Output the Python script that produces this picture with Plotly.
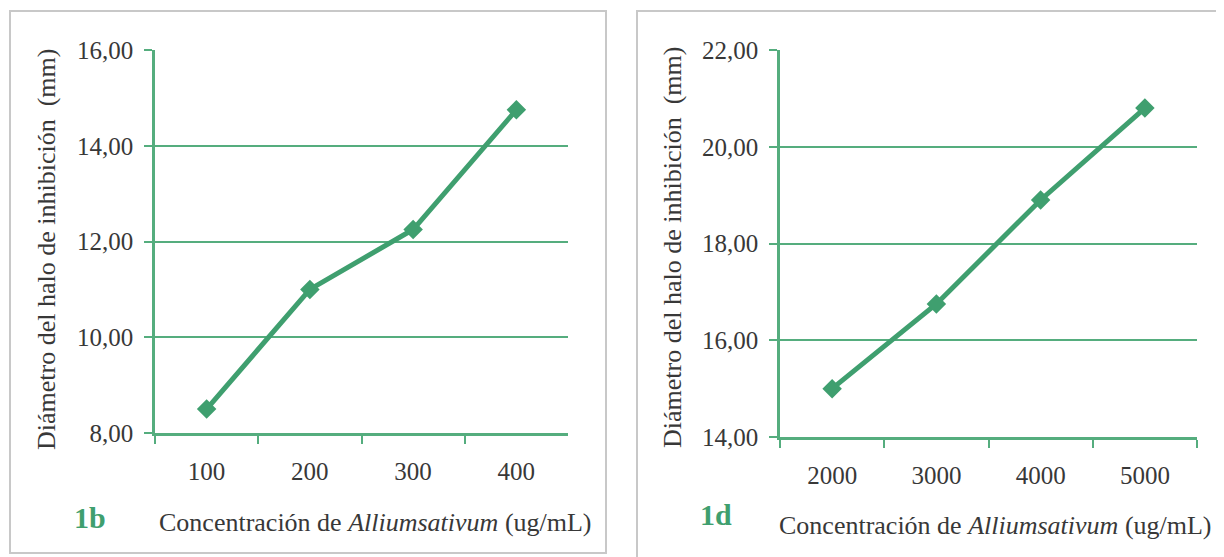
import plotly.graph_objects as go

# Data
conc_1b = ["100", "200", "300", "400"]
halo_1b = [8.5, 11.0, 12.25, 14.75]
conc_1d = ["2000", "3000", "4000", "5000"]
halo_1d = [15.0, 16.75, 18.9, 20.8]
yticks_1b = [8, 10, 12, 14, 16]
yticks_1d = [14, 16, 18, 20, 22]
ylabels_1b = ["8,00", "10,00", "12,00", "14,00", "16,00"]
ylabels_1d = ["14,00", "16,00", "18,00", "20,00", "22,00"]

W, H = 1224, 557
OFF = 8  # page body margin
LINE = "#3F9F6F"
GRID = "#55AD7E"
TXT = "#383838"
FONT = "Times New Roman, Liberation Serif, serif"

def px(x):
    return (x - OFF) / W

def py(y):
    return (H - (y - OFF)) / H

fig = go.Figure()
fig.add_trace(go.Scatter(x=conc_1b, y=halo_1b, mode="lines+markers",
                         line=dict(color=LINE, width=5),
                         marker=dict(symbol="diamond", size=15, color=LINE),
                         xaxis="x", yaxis="y", showlegend=False))
fig.add_trace(go.Scatter(x=conc_1d, y=halo_1d, mode="lines+markers",
                         line=dict(color=LINE, width=5),
                         marker=dict(symbol="diamond", size=15, color=LINE),
                         xaxis="x2", yaxis="y2", showlegend=False))

xcommon = dict(type="category", range=[-0.5, 3.5], tickson="boundaries",
               ticks="outside", ticklen=8, tickwidth=2, tickcolor=GRID,
               showline=True, linecolor=GRID, linewidth=2.5, showgrid=False,
               tickfont=dict(family=FONT, size=25, color=TXT),
               ticklabelstandoff=14, zeroline=False, automargin=False)
ycommon = dict(ticks="outside", ticklen=8, tickwidth=2, tickcolor=GRID,
               showline=True, linecolor=GRID, linewidth=2.5,
               showgrid=True, gridcolor=GRID, gridwidth=2,
               tickfont=dict(family=FONT, size=25, color=TXT),
               ticklabelstandoff=6, zeroline=False, automargin=False)

fig.update_layout(
    width=W, height=H,
    margin=dict(l=0, r=0, t=0, b=0, autoexpand=False),
    paper_bgcolor="white", plot_bgcolor="white",
    xaxis=dict(domain=[px(155), px(568)], anchor="y", **xcommon),
    yaxis=dict(domain=[py(433), py(50)], anchor="x", range=[8, 16],
               tickvals=yticks_1b, ticktext=ylabels_1b, **ycommon),
    xaxis2=dict(domain=[px(780), px(1197)], anchor="y2", **xcommon),
    yaxis2=dict(domain=[py(437), py(50)], anchor="x2", range=[14, 22],
                tickvals=yticks_1d, ticktext=ylabels_1d, **ycommon),
)

# panel frames
fig.add_shape(type="rect", xref="paper", yref="paper",
              x0=px(10), x1=px(606), y0=py(553), y1=py(11),
              line=dict(color="#C8C8C8", width=2), fillcolor="rgba(0,0,0,0)")
fig.add_shape(type="rect", xref="paper", yref="paper",
              x0=px(637), x1=px(1240), y0=py(575), y1=py(11),
              line=dict(color="#C8C8C8", width=2), fillcolor="rgba(0,0,0,0)")

anns = [
    dict(x=px(46), y=py(250), text="Diámetro del halo de inhibición  (mm)", textangle=-90,
         font=dict(family=FONT, size=26, color=TXT)),
    dict(x=px(672), y=py(248), text="Diámetro del halo de inhibición  (mm)", textangle=-90,
         font=dict(family=FONT, size=26, color=TXT)),
    dict(x=px(375), y=py(522), text="Concentración de <i>Alliumsativum</i> (ug/mL)",
         font=dict(family=FONT, size=26, color=TXT)),
    dict(x=px(995), y=py(525), text="Concentración de <i>Alliumsativum</i> (ug/mL)",
         font=dict(family=FONT, size=26, color=TXT)),
    dict(x=px(90), y=py(517), text="<b>1b</b>",
         font=dict(family=FONT, size=30, color=LINE)),
    dict(x=px(716), y=py(514), text="<b>1d</b>",
         font=dict(family=FONT, size=30, color=LINE)),
]
for a in anns:
    fig.add_annotation(xref="paper", yref="paper", showarrow=False,
                       xanchor="center", yanchor="middle", **a)

fig.write_html("out.html")
